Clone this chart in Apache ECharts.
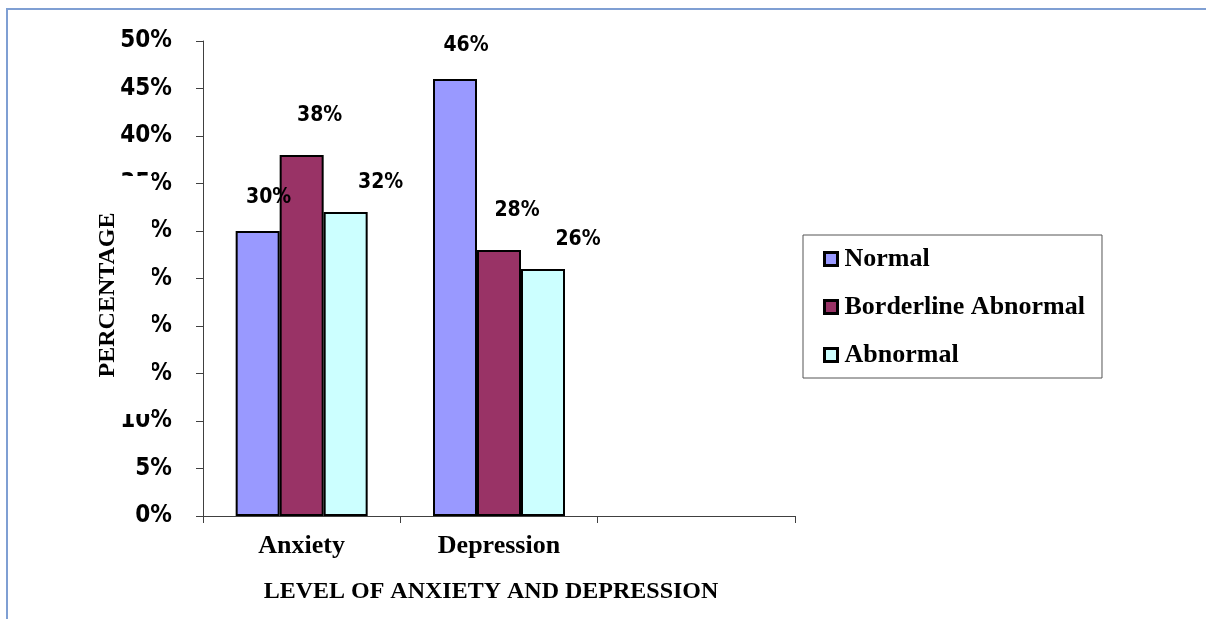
<!DOCTYPE html>
<html>
<head>
<meta charset="utf-8">
<script src="https://cdn.jsdelivr.net/npm/echarts@6/dist/echarts.min.js"></script>
<style>
html,body{margin:0;padding:0;background:#fff;}
#chart{width:1206px;height:619px;}
</style>
</head>
<body>
<div id="chart"></div>
<script>
var categories = ['Anxiety', 'Depression', ''];
var normal = [30, 46, null];
var borderline = [38, 28, null];
var abnormal = [32, 26, null];
var seriesNames = ['Normal', 'Borderline Abnormal', 'Abnormal'];
var yMin = 0, yMax = 50, yInterval = 5;

var numFont = "'DejaVu Sans Condensed', 'DejaVu Sans', sans-serif";
var serifFont = "'Liberation Serif', 'Times New Roman', serif";

function labelCfg(dx, dy) {
  return {
    show: true,
    position: 'top',
    distance: 5,
    offset: [dx, dy],
    formatter: function (p) { return p.value + '%'; },
    fontFamily: numFont,
    fontWeight: 'bold',
    fontSize: 21,
    color: '#000'
  };
}

var chart = echarts.init(document.getElementById('chart'), null, {renderer: 'canvas'});
chart.setOption({
  animation: false,
  backgroundColor: '#fff',
  grid: {left: 203, right: 411, top: 41, bottom: 103, containLabel: false},
  legend: {
    orient: 'vertical',
    left: 803,
    top: 235,
    padding: [11, 17, 10, 20],
    itemGap: 22,
    itemWidth: 13,
    itemHeight: 13,
    icon: 'rect',
    borderColor: '#555',
    borderWidth: 1,
    itemStyle: {borderColor: '#000', borderWidth: 3},
    data: seriesNames,
    textStyle: {fontFamily: serifFont, fontWeight: 'bold', fontSize: 26, lineHeight: 26, color: '#000', padding: [0,0,0,2]}
  },
  xAxis: {
    type: 'category',
    data: categories,
    axisLine: {lineStyle: {color: '#404040', width: 1}},
    axisTick: {show: true, length: 7, interval: 0, lineStyle: {color: '#404040'}},
    axisLabel: {fontFamily: serifFont, fontWeight: 'bold', fontSize: 26, color: '#000', margin: 17, interval: 0},
    name: 'LEVEL OF ANXIETY AND DEPRESSION',
    nameLocation: 'middle',
    nameGap: 64,
    nameTextStyle: {fontFamily: serifFont, fontWeight: 'bold', fontSize: 24, color: '#000', padding: [0, 16, 0, 0]}
  },
  yAxis: {
    type: 'value',
    min: yMin,
    max: yMax,
    interval: yInterval,
    axisLine: {show: true, lineStyle: {color: '#404040', width: 1}},
    axisTick: {show: true, length: 7, lineStyle: {color: '#404040'}},
    splitLine: {show: false},
    axisLabel: {formatter: '{value}%', fontFamily: numFont, fontWeight: 'bold', fontSize: 24, color: '#000', margin: 31}
  },
  series: [
    {name: seriesNames[0], type: 'bar', data: normal, barWidth: 44, barGap: '0%',
     itemStyle: {color: '#9999FF', borderColor: '#000', borderWidth: 2}, label: labelCfg(11, -18)},
    {name: seriesNames[1], type: 'bar', data: borderline, barWidth: 44, barGap: '0%',
     itemStyle: {color: '#993366', borderColor: '#000', borderWidth: 2}, label: labelCfg(18, -24)},
    {name: seriesNames[2], type: 'bar', data: abnormal, barWidth: 44, barGap: '0%',
     itemStyle: {color: '#CCFFFF', borderColor: '#000', borderWidth: 2}, label: labelCfg(35, -14)}
  ],
  graphic: [
    {type: 'line', z: 100, shape: {x1: 6, y1: 9, x2: 1206, y2: 9}, style: {stroke: '#7f9fd3', lineWidth: 2}},
    {type: 'line', z: 100, shape: {x1: 7, y1: 8, x2: 7, y2: 619}, style: {stroke: '#7f9fd3', lineWidth: 2}},
    {type: 'rect', z: 100, shape: {x: 95, y: 176, width: 57, height: 238}, style: {fill: '#fff'}},
    {type: 'text', z: 101, x: 108, y: 295, rotation: Math.PI / 2,
     style: {text: 'PERCENTAGE', font: "bold 24px 'Liberation Serif', serif", fill: '#000', align: 'center', verticalAlign: 'middle'}}
  ]
});
</script>
</body>
</html>
